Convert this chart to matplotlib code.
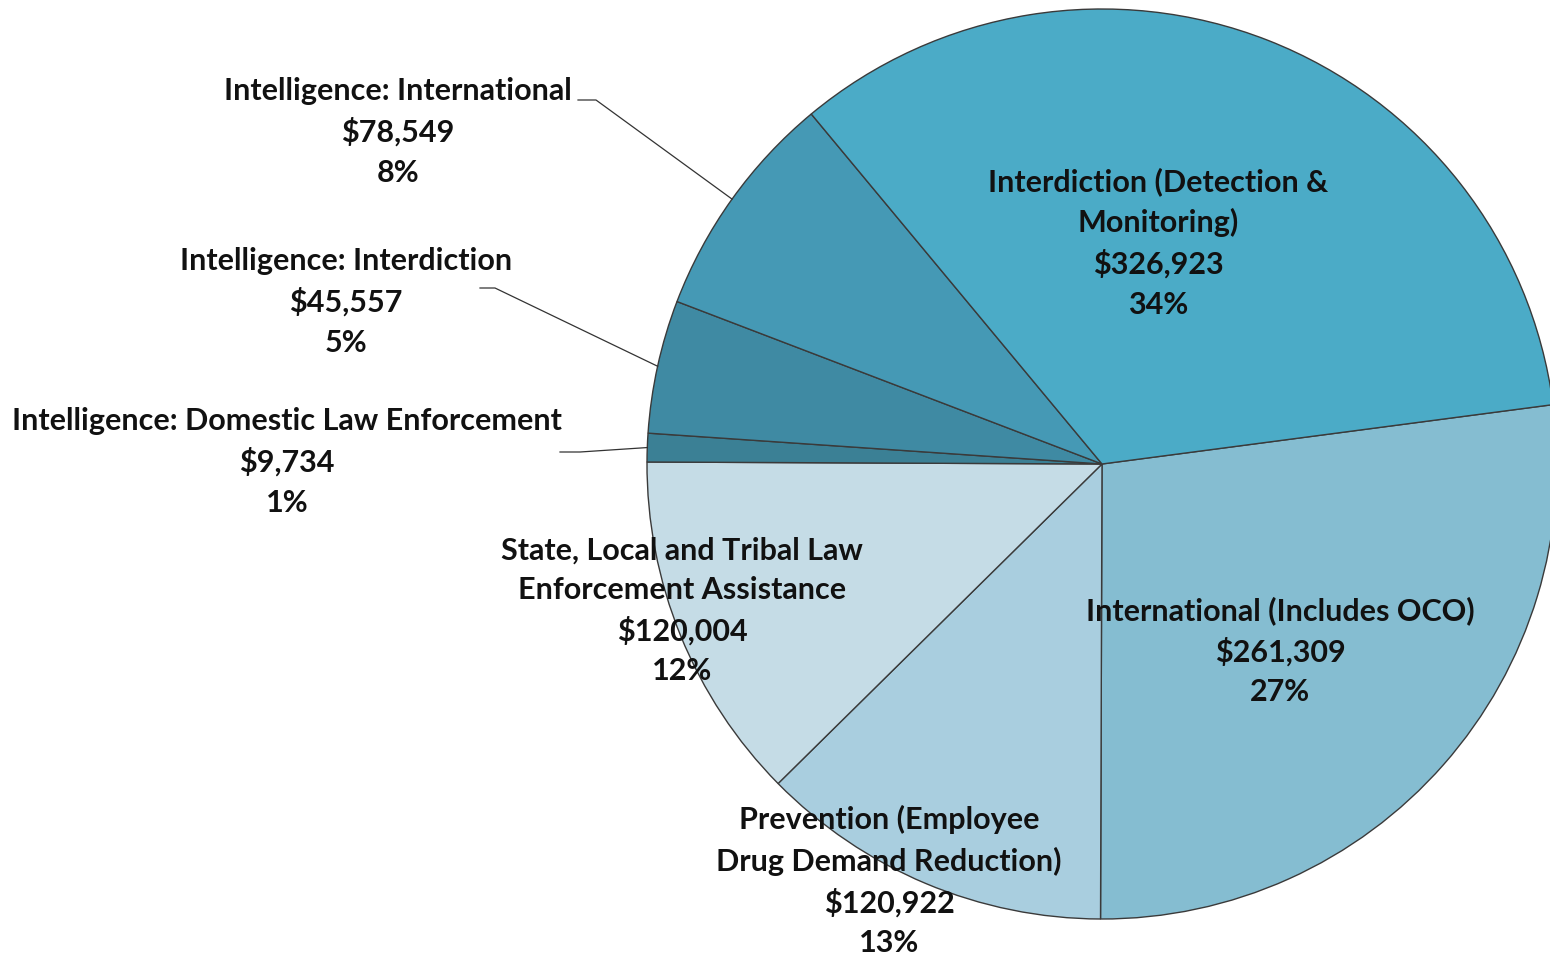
import matplotlib
matplotlib.use("Agg")
import matplotlib.pyplot as plt
import numpy as np

# Data (clockwise order starting just above 3 o'clock)
categories = [
    "International (Includes OCO)",
    "Prevention (Employee\nDrug Demand Reduction)",
    "State, Local and Tribal Law\nEnforcement Assistance",
    "Intelligence: Domestic Law Enforcement",
    "Intelligence: Interdiction",
    "Intelligence: International",
    "Interdiction (Detection &\nMonitoring)",
]
values = [261309, 120922, 120004, 9734, 45557, 78549, 326923]
value_labels = ["$261,309", "$120,922", "$120,004", "$9,734", "$45,557", "$78,549", "$326,923"]
pct_labels = ["27%", "13%", "12%", "1%", "5%", "8%", "34%"]
colors = ["#85BDD1", "#A9CEDF", "#C5DCE6", "#3B8095", "#3F8AA3", "#4599B5", "#4BABC7"]

W, H = 1550, 955
fig = plt.figure(figsize=(W / 100, H / 100), dpi=100)
ax = fig.add_axes([0, 0, 1, 1])

cx, cy, r = 1102, H - 464, 455
wedges, _ = ax.pie(values, colors=colors, startangle=7.5, counterclock=False,
                   center=(cx, cy), radius=r, frame=True,
                   wedgeprops=dict(edgecolor="#3a3a3a", linewidth=1.0))
ax.set_xlim(0, W)
ax.set_ylim(0, H)
ax.set_aspect("equal")
ax.axis("off")

font = dict(family="Lato", fontweight="bold", fontsize=22, color="#111111",
            ha="center", va="center", multialignment="center", linespacing=1.5)

# label placement (pixel coordinates from top-left)
label_pos = [
    (1280, 651),
    (889, 881),
    (682, 611),
    (287, 462),
    (346, 302),
    (398, 132),
    (1158, 243),
]
for i, (x, y) in enumerate(label_pos):
    txt = f"{categories[i]}\n{value_labels[i]}\n{pct_labels[i]}"
    ax.text(x, H - y, txt, **font)

# leader lines for the small intelligence slices
leader_start = {3: (560, 452), 4: (480, 288), 5: (578, 100)}
leader_kink = {3: (580, 452), 4: (495, 288), 5: (596, 100)}
for i in leader_start:
    w = wedges[i]
    ang = np.deg2rad((w.theta1 + w.theta2) / 2)
    ex, ey = cx + r * np.cos(ang), cy + r * np.sin(ang)
    (sx, sy), (kx, ky) = leader_start[i], leader_kink[i]
    ax.plot([sx, kx, ex], [H - sy, H - ky, ey], color="#333333", lw=0.9)

fig.savefig("out.png", dpi=100, facecolor="white")
